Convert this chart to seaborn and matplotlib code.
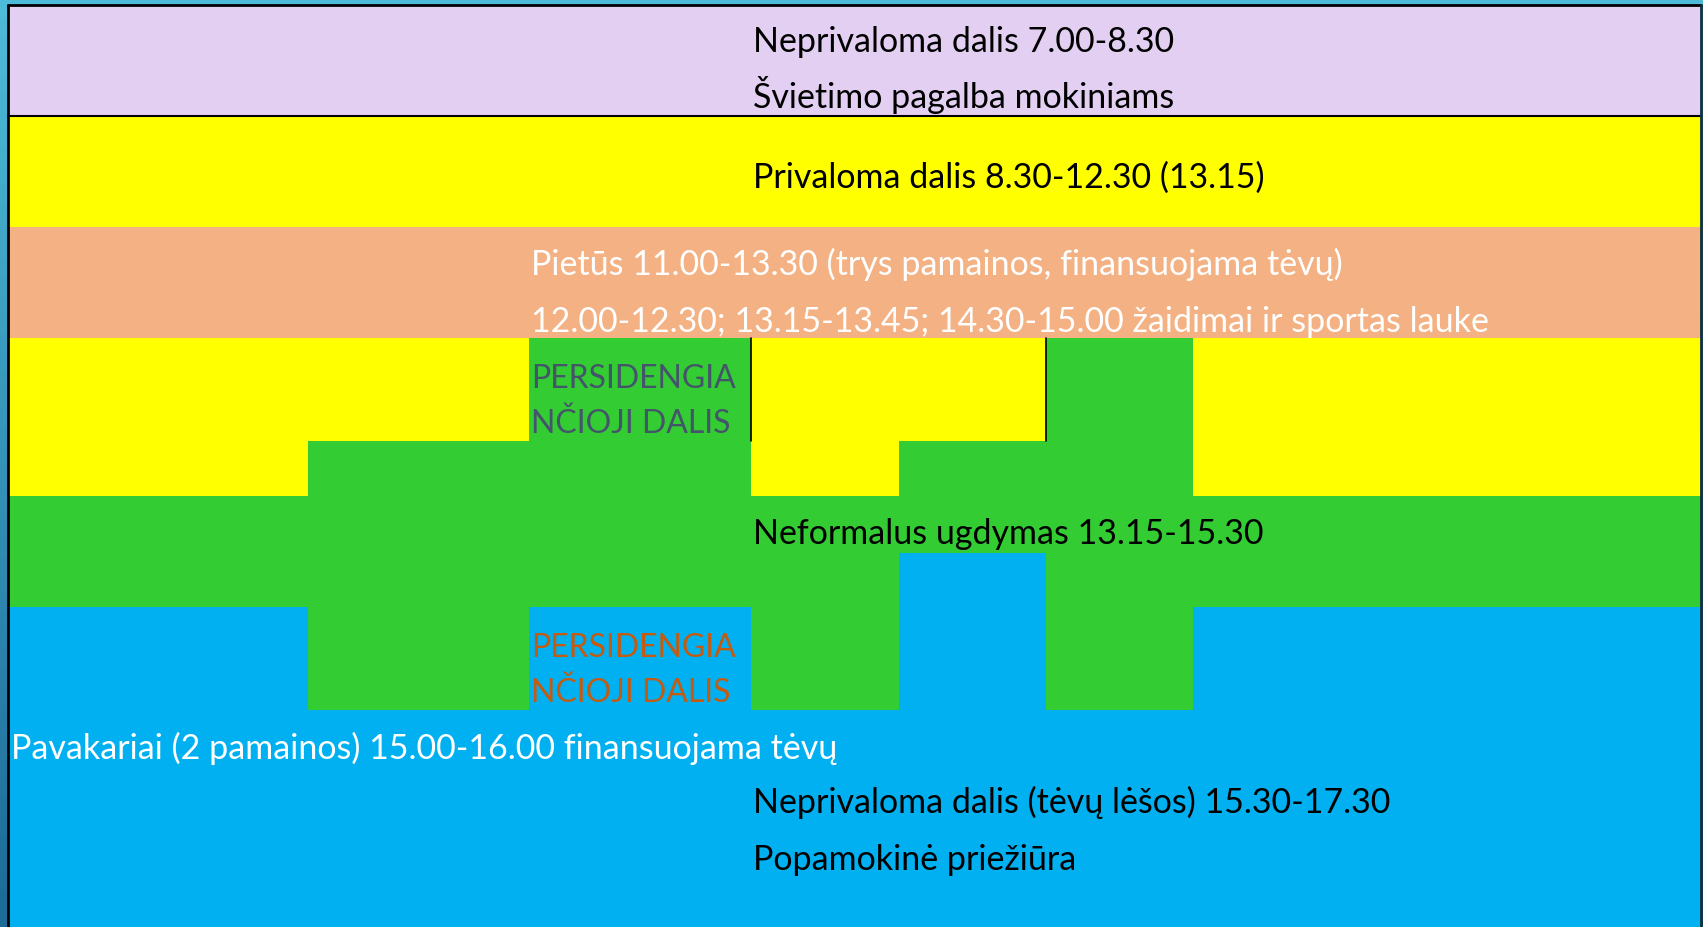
import matplotlib
matplotlib.use('Agg')
import numpy as np
import pandas as pd
import matplotlib.pyplot as plt
from matplotlib.colors import ListedColormap
import seaborn as sns

# block layout of the day plan (pixel grid of the slide)
col_edges = [8, 308, 529, 751, 899, 1046, 1193, 1701]
row_edges = [5, 116, 227, 338, 441, 496, 553, 607, 710, 927]

# 0 lavender, 1 yellow, 2 peach, 3 green, 4 blue
block_codes = [
    [0, 0, 0, 0, 0, 0, 0],
    [1, 1, 1, 1, 1, 1, 1],
    [2, 2, 2, 2, 2, 2, 2],
    [1, 1, 3, 1, 1, 3, 1],
    [1, 3, 3, 1, 3, 3, 1],
    [3, 3, 3, 3, 3, 3, 3],
    [3, 3, 3, 3, 4, 3, 3],
    [4, 3, 4, 3, 4, 3, 4],
    [4, 4, 4, 4, 4, 4, 4],
]
block_colors = ['#E2CFF1', '#FFFF00', '#F4B183', '#33CC33', '#00B0F0']

labels = [
    "Neprivaloma dalis 7.00-8.30",
    "Švietimo pagalba mokiniams",
    "Privaloma dalis 8.30-12.30 (13.15)",
    "Pietūs 11.00-13.30 (trys pamainos, finansuojama tėvų)",
    "12.00-12.30; 13.15-13.45; 14.30-15.00 žaidimai ir sportas lauke",
    "PERSIDENGIA",
    "NČIOJI DALIS",
    "Neformalus ugdymas 13.15-15.30",
    "PERSIDENGIA",
    "NČIOJI DALIS",
    "Pavakariai (2 pamainos) 15.00-16.00 finansuojama tėvų",
    "Neprivaloma dalis (tėvų lėšos) 15.30-17.30",
    "Popamokinė priežiūra",
]
label_x = [753, 753, 753, 531, 531, 531, 531, 753, 531, 531, 11, 753, 753]
label_y = [52, 108, 188, 275, 332, 388, 433, 544, 657, 702, 759, 813, 870]
label_colors = ['black', 'black', 'black', 'white', 'white', '#44546A', '#44546A',
                'black', '#C55A11', '#C55A11', 'white', 'black', 'black']

sns.set_theme(style="white")
plt.rcParams['font.family'] = ['Lato', 'DejaVu Sans']

fig = plt.figure(figsize=(17.03, 9.27), dpi=100)
fig.patch.set_facecolor('#47B4D6')

# frame gradient on the left side
bg = fig.add_axes([0, 0, 1, 1])
grad = np.linspace(0, 1, 200).reshape(-1, 1)
bg.imshow(grad, aspect='auto', extent=[0, 1703, 927, 0],
          cmap=ListedColormap(sns.blend_palette(['#4DBAD8', '#1C6B98'], 50)))
bg.set_xlim(0, 1703)
bg.set_ylim(927, 0)
bg.axis('off')

ax = fig.add_axes([0, 0, 1, 1], facecolor='none')
grid = pd.DataFrame(block_codes)
ax.pcolormesh(col_edges, row_edges, grid.values,
              cmap=ListedColormap(block_colors), vmin=-0.5, vmax=4.5)

# outlines
ax.plot([col_edges[0], col_edges[-1]], [row_edges[0], row_edges[0]], color='black', lw=2)
ax.plot([col_edges[0], col_edges[-1]], [row_edges[1], row_edges[1]], color='black', lw=1.5)
ax.plot([col_edges[0], col_edges[0]], [row_edges[0], row_edges[-1]], color='black', lw=2)
ax.plot([col_edges[-1], col_edges[-1]], [row_edges[0], row_edges[-1]], color='#123040', lw=2)
for cx in [col_edges[3], col_edges[5]]:
    ax.plot([cx, cx], [row_edges[3], row_edges[4]], color='black', lw=1.2)

for txt, x, y, c in zip(labels, label_x, label_y, label_colors):
    size = 23 if txt.isupper() else 24.5
    ax.text(x, y, txt, color=c, fontsize=size, ha='left', va='baseline')

ax.set_xlim(0, 1703)
ax.set_ylim(927, 0)
ax.axis('off')

fig.savefig('out.png', dpi=100)
